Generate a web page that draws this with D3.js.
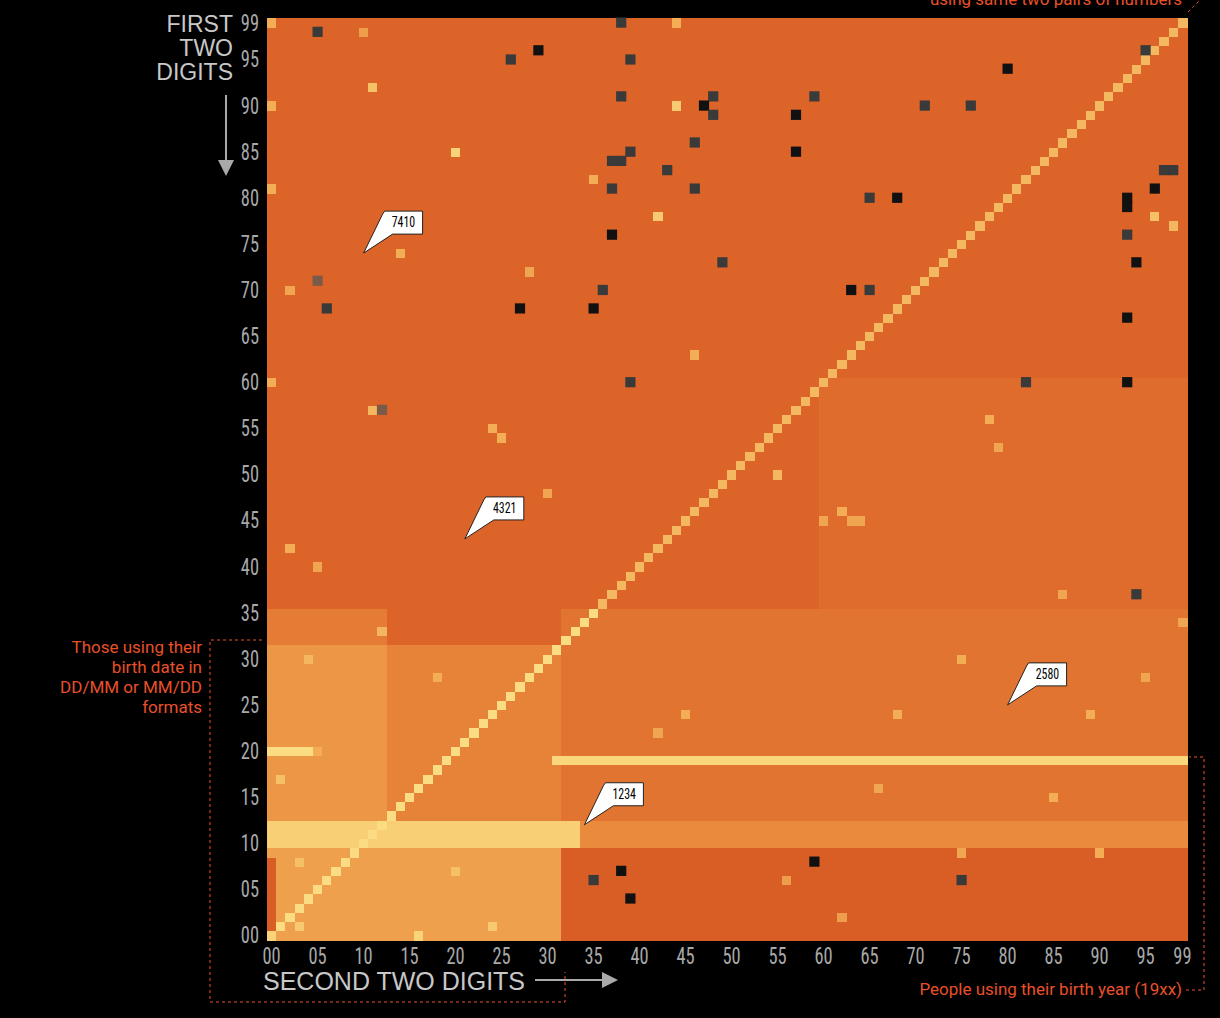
<!DOCTYPE html>
<html><head><meta charset="utf-8">
<script src="https://cdn.jsdelivr.net/npm/d3@7"></script>
<style>body{margin:0;background:#000;}svg{display:block}</style>
</head><body><svg id="c" width="1220" height="1018"></svg>
<script>
// ---- DATA ----
const digits = d3.range(100);
const tickLabels = ["00","05","10","15","20","25","30","35","40","45","50","55","60","65","70","75","80","85","90","95","99"];
// region levels [rowFrom,rowTo,colFrom,colTo,level] (later entries override)
const regions = [
  [0,99,0,99,0.16],
  [13,60,60,99,0.2],
  [13,35,32,99,0.25],
  [0,9,32,99,0.12],
  [10,12,32,99,0.38],
  [0,9,0,31,0.52],
  [13,31,13,31,0.34],
  [13,31,0,12,0.46],
  [32,35,0,12,0.3],
  [10,12,0,33,0.78],
  [0,8,0,0,0.12],
  [20,20,0,5,0.85],
  [19,19,31,99,0.82]
];
// diagonal brightness [rowFrom,rowTo,level]
const diagonal = [[0,35,0.85],[36,99,0.66]];
// bright speckles [row,col,level]
const speckles = [[99,0,0.6],[99,44,0.6],[98,10,0.5],[92,11,0.7],[90,44,0.75],[90,0,0.6],[85,20,0.8],[82,35,0.6],[78,42,0.75],
 [81,0,0.6],[74,14,0.6],[72,28,0.55],[70,2,0.55],[63,46,0.6],[60,0,0.6],[57,11,0.65],[55,24,0.6],[54,25,0.6],[53,79,0.55],
 [56,78,0.6],[50,55,0.65],[48,30,0.55],[46,62,0.6],[45,60,0.55],[45,63,0.55],[45,64,0.55],[42,2,0.6],[40,5,0.55],
 [37,86,0.55],[34,99,0.55],[30,75,0.6],[28,95,0.55],[24,45,0.6],[24,68,0.6],[24,89,0.6],[22,42,0.55],[20,5,0.6],
 [17,1,0.7],[16,66,0.55],[15,85,0.6],[9,90,0.6],[9,75,0.55],[8,3,0.7],[7,20,0.7],[6,56,0.5],[2,62,0.5],[1,3,0.75],[0,16,0.8],
 [0,0,0.8],[78,96,0.7],[77,98,0.65],[1,24,0.75],[30,4,0.65],[28,18,0.6],[33,12,0.65]];
// cells with no data (drawn dark) [row,col,shade]
const darkCells = [[98,5,1],[96,29,0],[95,26,1],[99,38,1],[95,39,1],[91,38,1],[91,48,1],[90,47,0],[89,48,1],[91,59,1],[89,57,0],
 [90,71,1],[90,76,1],[94,80,0],[96,95,1],[86,46,1],[85,39,1],[84,37,1],[84,38,1],[85,57,0],[83,43,1],[81,37,1],[81,46,1],
 [80,65,1],[80,68,0],[83,97,1],[83,98,1],[81,96,0],[80,93,0],[79,93,0],[76,93,1],[76,37,0],[73,49,1],[73,94,0],[71,5,2],
 [70,36,1],[70,63,0],[70,65,1],[68,6,1],[68,27,0],[68,35,0],[67,93,0],[60,39,1],[60,82,1],[60,93,0],[57,12,2],[37,94,1],
 [6,35,1],[7,38,0],[4,39,0],[8,59,0],[6,75,1]];
const callouts = [["7410",74,10],["4321",43,21],["2580",25,80],["1234",12,34]];

// ---- BUILD ----
const grid = digits.map(()=>digits.map(()=>0));
regions.forEach(([r0,r1,c0,c1,v])=>{for(let r=r0;r<=r1;r++)for(let c=c0;c<=c1;c++)grid[r][c]=v;});
diagonal.forEach(([r0,r1,v])=>{for(let i=r0;i<=r1;i++)grid[i][i]=Math.max(grid[i][i],v);});
speckles.forEach(([r,c,v])=>grid[r][c]=v);
const cells=[];
digits.forEach(r=>digits.forEach(c=>cells.push({r,c,v:grid[r][c]})));

const svg=d3.select("#c");
const L=267,R=1187,T=18,B=940;
const x=d3.scaleBand().domain(digits).range([L,R]);
const y=d3.scaleBand().domain(digits).range([B,T]);
const color=d3.scaleLinear().domain([0,0.16,0.35,0.6,0.85,1])
  .range(["#c94a1c","#dd6429","#e8853a","#f2ad55","#fcdc82","#fff2b0"]);
svg.append("g").attr("shape-rendering","crispEdges").selectAll("rect").data(cells).join("rect")
  .attr("x",d=>x(d.c)).attr("y",d=>y(d.r)).attr("width",x.bandwidth()+0.5).attr("height",y.bandwidth()+0.5)
  .attr("fill",d=>color(d.v));
const darkFill=["#111","#3a3a3a","#7a5a48"];
svg.append("g").selectAll("rect").data(darkCells).join("rect")
  .attr("x",d=>x(d[1])-0.5).attr("y",d=>y(d[0])-0.5).attr("width",x.bandwidth()+1).attr("height",y.bandwidth()+1)
  .attr("fill",d=>darkFill[d[2]]);

const tickFont='"Roboto Condensed","Liberation Sans Narrow","DejaVu Sans Condensed",sans-serif';
svg.append("g").selectAll("text").data(tickLabels).join("text")
  .attr("x",259).attr("y",d=>y(+d)+y.bandwidth()/2+8).attr("text-anchor","end")
  .attr("font-family",tickFont).attr("font-size",23).attr("fill","#a8a8a8")
  .attr("transform","translate(259,0) scale(0.8,1) translate(-259,0)").text(d=>d);
svg.append("g").selectAll("text").data(tickLabels).join("text")
  .attr("x",d=>x(+d)+x.bandwidth()/2).attr("y",964).attr("text-anchor","middle")
  .attr("font-family",tickFont).attr("font-size",23).attr("fill","#a8a8a8")
  .attr("transform",d=>{const cx=x(+d)+x.bandwidth()/2;return `translate(${cx},0) scale(0.8,1) translate(${-cx},0)`;}).text(d=>d);

const titleFont='"Liberation Sans","Roboto",sans-serif';
["FIRST","TWO","DIGITS"].forEach((t,i)=>svg.append("text").attr("x",233).attr("y",32+i*24).attr("text-anchor","end")
  .attr("font-family",titleFont).attr("font-size",23).attr("fill","#c8c8c8").text(t));
svg.append("line").attr("x1",226).attr("x2",226).attr("y1",95).attr("y2",162).attr("stroke","#aaa").attr("stroke-width",2);
svg.append("path").attr("d","M218,160 L234,160 L226,176 Z").attr("fill","#aaa");
svg.append("text").attr("x",263).attr("y",990).attr("font-family",titleFont).attr("font-size",25).attr("fill","#c8c8c8").text("SECOND TWO DIGITS");
svg.append("line").attr("x1",535).attr("x2",604).attr("y1",980).attr("y2",980).attr("stroke","#aaa").attr("stroke-width",2);
svg.append("path").attr("d","M602,972 L618,980 L602,988 Z").attr("fill","#aaa");

// annotations
const red="#e8502a";
const annFont='"Roboto","Liberation Sans",sans-serif';
["Those using their","birth date in","DD/MM or MM/DD","formats"].forEach((t,i)=>svg.append("text").attr("x",202).attr("y",653+i*20)
  .attr("text-anchor","end").attr("font-family",annFont).attr("font-size",17).attr("fill",red).text(t));
svg.append("path").attr("d","M262,640 L210,640 L210,1002 L565,1002 L565,972").attr("fill","none").attr("stroke",red).attr("stroke-dasharray","3,3").attr("stroke-width",1);
svg.append("text").attr("x",1182).attr("y",995).attr("text-anchor","end").attr("font-family",annFont).attr("font-size",17).attr("fill",red).text("People using their birth year (19xx)");
svg.append("path").attr("d","M1186,990 L1204,990 L1204,757 L1189,757").attr("fill","none").attr("stroke",red).attr("stroke-dasharray","3,3");
svg.append("text").attr("x",1182).attr("y",5).attr("text-anchor","end").attr("font-family",annFont).attr("font-size",17).attr("fill",red).text("using same two pairs of numbers");
svg.append("path").attr("d","M1188,12 L1200,0").attr("fill","none").attr("stroke",red).attr("stroke-dasharray","3,3");

callouts.forEach(([t,r,c])=>{
  const px=x(c)+x.bandwidth()/2, py=y(r)+y.bandwidth()/2;
  const x0=px+19,y0=py-42,x1=x0+40,y1=y0+23;
  svg.append("path").attr("d",`M${px},${py} L${x0},${y0+3} L${x0+2},${y0} L${x1},${y0} L${x1},${y1} L${x0+10},${y1} Z`)
    .attr("fill","#fff").attr("stroke","#222").attr("stroke-width",1);
  svg.append("text").attr("x",(x0+x1)/2+1).attr("y",y0+16).attr("text-anchor","middle").attr("font-family",tickFont)
    .attr("font-size",14).attr("fill","#000").attr("transform",`translate(${(x0+x1)/2},0) scale(0.85,1) translate(${-(x0+x1)/2},0)`).text(t);
});
</script></body></html>
